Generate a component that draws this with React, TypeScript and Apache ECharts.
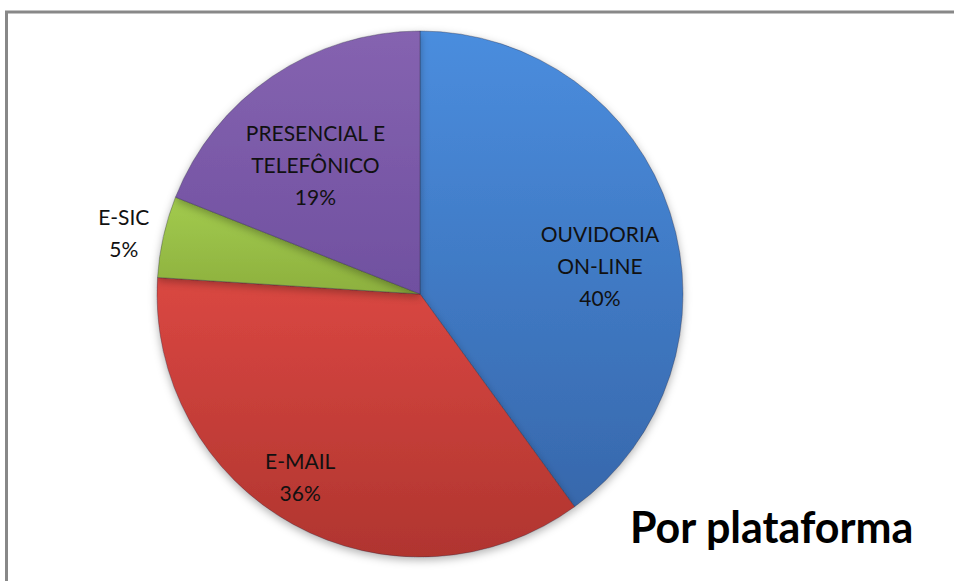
import React, { useEffect, useRef } from "react";
import * as echarts from "echarts";

const categories = ["OUVIDORIA\nON-LINE", "E-MAIL", "E-SIC", "PRESENCIAL E\nTELEFÔNICO"];
const values = [40, 36, 5, 19];
const colorsTop = ["#4A8DDE", "#DA4742", "#A2CB4E", "#8563B0"];
const colorsBottom = ["#3768AC", "#B0352F", "#8DB03E", "#7050A0"];
const labelOffsets = [[52, 13], [-55, 65], [-165, -32], [-29, -18]];
const title = "Por plataforma";

export default function App() {
  const ref = useRef<HTMLDivElement>(null);
  useEffect(() => {
    if (!ref.current) return;
    const chart = echarts.init(ref.current, null, { renderer: "svg" });
    const data = categories.map((name, i) => ({
      name,
      value: values[i],
      itemStyle: {
        color: new echarts.graphic.LinearGradient(0, 0, 0, 1, [
          { offset: 0, color: colorsTop[i] },
          { offset: 1, color: colorsBottom[i] },
        ]),
      },
      label: { offset: labelOffsets[i] },
    }));
    chart.setOption({
      animation: false,
      backgroundColor: "#ffffff",
      graphic: [
        {
          type: "rect",
          shape: { x: 6.5, y: 12, width: 1200, height: 1200 },
          style: { fill: "none", stroke: "#888888", lineWidth: 3 },
          z: 0,
        },
        {
          type: "text",
          left: 630,
          top: 505,
          style: {
            text: title,
            fontFamily: "Lato",
            fontWeight: "bold",
            fontSize: 43,
            fill: "#000000",
          },
        },
      ],
      series: [
        {
          type: "pie",
          center: [420, 294],
          radius: [0, 263],
          startAngle: 90,
          clockwise: true,
          data,
          itemStyle: {
            borderColor: "rgba(40,40,60,0.35)",
            borderWidth: 1,
            shadowBlur: 8,
            shadowColor: "rgba(0,0,0,0.3)",
            shadowOffsetY: 3,
          },
          label: {
            show: true,
            position: "inside",
            formatter: (p: any) => `${p.name}\n${p.value}%`,
            fontFamily: "Lato",
            fontSize: 21,
            lineHeight: 32,
            color: "#111111",
            align: "center",
          },
          labelLine: { show: false },
          emphasis: { disabled: true },
        },
      ],
    });
    return () => chart.dispose();
  }, []);
  return (
    <div
      ref={ref}
      style={{ position: "absolute", left: 0, top: 0, width: 954, height: 581 }}
    />
  );
}
